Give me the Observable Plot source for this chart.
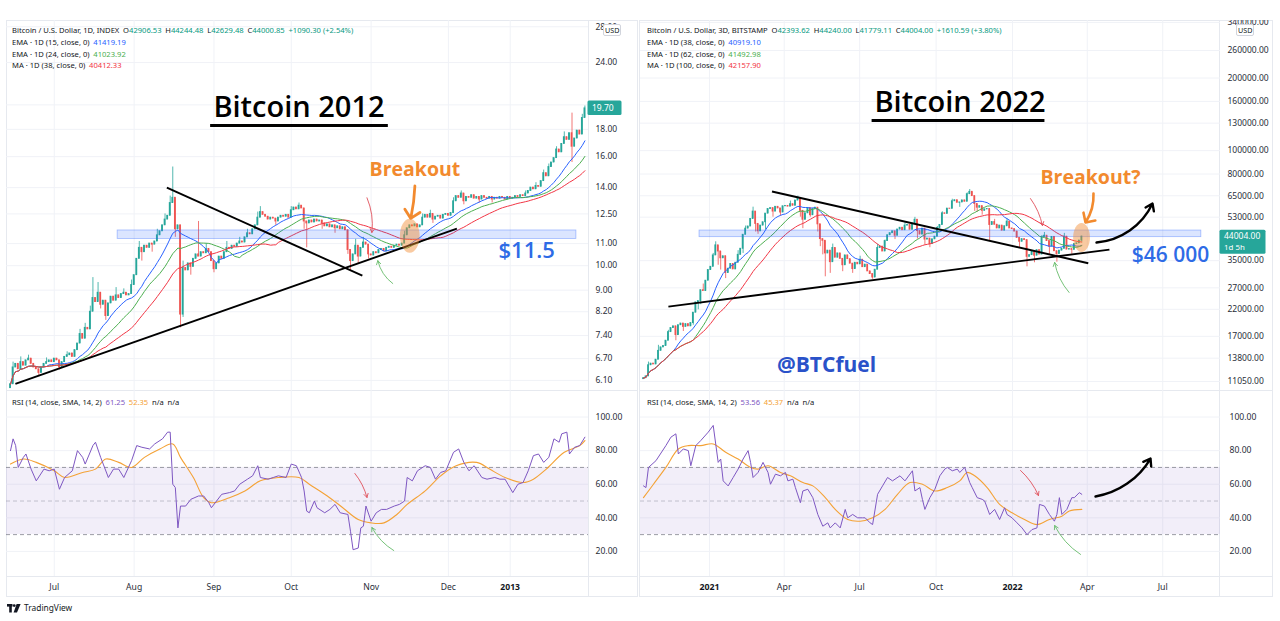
<!DOCTYPE html>
<html>
<head>
<meta charset="utf-8">
<script src="https://cdn.jsdelivr.net/npm/d3@7"></script>
<script src="https://cdn.jsdelivr.net/npm/@observablehq/plot@0.6"></script>
<style>
html,body{margin:0;padding:0;background:#fff;}
body{width:1280px;height:621px;position:relative;overflow:hidden;font-family:"Noto Sans",Roboto,sans-serif;color:#131722;}
.box{position:absolute;border:1px solid #e6e9ef;box-sizing:border-box;}
.hl{position:absolute;height:0;border-top:1px solid #e6e9ef;}
.vl{position:absolute;width:0;border-left:1px solid #e6e9ef;}
.plot{position:absolute;}
.lg{position:absolute;font-size:7.6px;line-height:12px;white-space:nowrap;color:#131722;}
.usd{position:absolute;font-size:7.2px;line-height:10px;height:10px;border:1px solid #d1d4dc;border-radius:2px;background:#fff;text-align:center;color:#131722;padding:0 1px;}
.tv{position:absolute;left:7px;top:602px;font-size:8.4px;line-height:12px;color:#131722;display:flex;align-items:center;gap:3px;}
</style>
</head>
<body>
<div class="box" style="left:6px;top:20px;width:632px;height:577px"></div>
<div class="vl" style="left:588px;top:20px;height:577px"></div>
<div class="hl" style="left:6px;top:390px;width:632px"></div>
<div class="hl" style="left:6px;top:576px;width:632px"></div>
<div class="box" style="left:639px;top:20px;width:634px;height:577px"></div>
<div class="vl" style="left:1219px;top:20px;height:577px"></div>
<div class="hl" style="left:639px;top:390px;width:634px"></div>
<div class="hl" style="left:639px;top:576px;width:634px"></div>
<div id="lp" class="plot" style="left:0;top:20px"></div>
<div id="lr" class="plot" style="left:0;top:390px"></div>
<div id="rp" class="plot" style="left:640px;top:20px"></div>
<div id="rr" class="plot" style="left:640px;top:390px"></div>
<div id="overlay"></div>
<div class="tv"><svg width="14" height="9" viewBox="0 0 14 9"><rect x="0" y="0" width="5.5" height="2.6" fill="#131722"/><rect x="2.2" y="0" width="2.6" height="8.5" fill="#131722"/><circle cx="7.2" cy="1.6" r="1.4" fill="#131722"/><path d="M9.6 0 L13.6 0 L10 8.5 L6.6 8.5 Z" fill="#131722"/></svg><span>TradingView</span></div>
<script>
// ================= LEFT PANEL : Bitcoin 2012 (daily, INDEX) =================
const leftClose = [
 6.00,6.45,6.55,6.40,6.60,6.50,6.65,6.70,6.55,6.45,
 6.40,6.30,6.45,6.55,6.60,6.65,6.60,6.70,6.65,6.45,
 6.60,6.75,6.80,6.85,6.75,6.95,7.15,7.45,7.30,7.65,
 7.60,8.20,8.70,8.55,8.90,8.45,8.60,8.05,8.50,8.75,
 8.60,8.80,8.70,8.85,8.90,8.80,8.85,9.20,9.60,10.30,
 10.80,10.60,10.90,10.80,11.00,10.95,11.10,11.40,11.60,11.90,
 12.20,12.40,13.10,13.40,11.70,11.90,8.10,9.90,9.80,10.10,
 9.95,10.30,10.50,10.40,10.60,10.55,10.75,10.60,10.20,9.85,
 10.10,10.40,10.30,10.60,10.80,10.75,10.90,10.85,11.00,11.10,
 11.05,11.30,11.50,11.45,11.70,11.90,12.30,12.60,12.45,12.35,
 12.20,12.30,12.25,12.10,12.30,12.40,12.35,12.45,12.30,12.70,
 12.85,12.75,12.95,12.80,12.10,12.00,12.15,12.05,12.20,12.10,
 12.15,12.00,11.85,11.95,11.80,11.90,11.75,11.85,11.70,11.80,
 11.65,10.70,10.20,10.50,10.90,10.40,10.80,11.05,10.95,10.50,
 10.45,10.60,10.55,10.70,10.75,10.65,10.80,10.85,10.80,10.90,
 10.95,10.90,11.00,11.40,11.75,11.90,11.85,11.95,11.80,11.90,
 12.30,12.45,12.30,12.50,12.20,12.35,12.40,12.25,12.45,12.50,
 12.40,12.55,13.20,13.50,13.40,13.65,13.20,13.45,13.40,13.55,
 13.35,13.45,13.30,13.50,13.40,13.35,13.45,13.30,13.40,13.35,
 13.45,13.40,13.30,13.45,13.35,13.40,13.50,13.45,13.55,13.50,
 13.65,13.80,14.00,13.90,14.10,14.05,14.40,14.90,14.70,15.30,
 15.60,15.90,16.50,16.30,16.90,17.40,17.20,17.70,16.70,17.30,
 17.90,17.60,18.90,19.70];
const leftOpen0 = 5.90;
// [bar, high, low]
const leftWicks = [[1,6.6,null],[4,6.75,null],[7,6.8,null],[11,null,6.2],[14,6.72,null],[19,null,6.38],[22,6.9,null],[27,7.6,null],[29,7.8,null],[31,8.4,null],[32,9.5,null],[34,9.3,null],[35,null,8.3],[37,null,7.9],[41,9.1,null],[44,9.05,null],[47,9.4,null],[50,11.1,null],[51,null,10.2],[55,null,10.6],[57,11.7,null],[60,12.5,null],[62,13.5,null],[63,15.3,null],[64,null,11.3],[66,null,7.65],[67,10.2,8.0],[70,null,9.6],[73,12.1,null],[76,11.0,null],[79,null,9.7],[84,11.1,null],[89,11.3,null],[92,11.7,null],[96,12.6,null],[97,12.9,null],[103,null,11.9],[109,12.9,null],[112,13.1,null],[114,null,11.7],[115,null,10.8],[121,null,11.7],[126,null,11.5],[131,null,10.5],[132,null,9.8],[134,11.2,null],[135,null,10.1],[137,11.3,null],[139,null,10.3],[153,11.6,null],[160,12.5,null],[163,12.7,null],[164,null,12.0],[172,13.4,null],[175,13.8,null],[176,null,13.0],[182,null,13.1],[187,null,13.1],[200,13.8,null],[204,14.3,null],[207,15.1,null],[209,15.5,null],[212,16.7,null],[215,17.8,null],[218,19.3,15.6],[222,19.2,null],[223,19.9,null]];
const leftMaLengths = [15, 24, 38];
const leftPriceTicks = [28, 24, 18, 16, 14, 12.5, 11, 10, 9, 8.2, 7.4, 6.7, 6.1];
const leftGridTicks = [28, 24, 20, 18, 16, 14, 12.5, 11, 10, 9, 8.2, 7.4, 6.7, 6.1];
const leftMonthBars = [17, 48, 79, 109, 140, 170];
const leftMonthLabels = ["Jul", "Aug", "Sep", "Oct", "Nov", "Dec"];
const leftYearBars = [194];
const leftYearLabels = ["2013"];
// RSI [bar, value]
const leftRsi = [[0,80],[1,87],[2,83],[3,70],[5,76],[6,78],[8,69],[10,62],[13,69],[15,68],[17,69],[19,57],[21,64],[24,68],[26,80],[28,76],[29,72],[32,83],[33,85],[35,76],[36,72],[38,64],[40,69],[42,69],[44,64],[47,74],[49,83],[51,82],[54,81],[56,84],[59,87],[61,91],[62,91],[63,60],[64,58],[65,34],[66,47],[68,47],[70,51],[73,53],[75,53],[77,49],[78,46],[80,50],[82,54],[85,55],[87,56],[89,60],[92,63],[94,65],[96,71],[97,64],[100,63],[102,64],[104,65],[107,64],[109,72],[111,71],[113,64],[114,56],[115,44],[116,43],[118,50],[119,46],[122,43],[124,45],[126,48],[128,43],[131,42],[132,32],[133,21],[135,22],[136,34],[137,35],[138,47],[140,38],[142,43],[144,45],[146,45],[149,47],[151,48],[153,50],[154,64],[156,62],[158,68],[161,71],[163,70],[165,63],[167,67],[169,68],[172,79],[174,81],[176,73],[178,68],[180,71],[183,64],[185,63],[188,64],[190,63],[192,63],[195,55],[197,60],[199,61],[201,68],[203,77],[205,78],[207,73],[209,76],[211,87],[213,85],[214,90],[216,91],[217,78],[219,82],[221,83],[223,88]];
const leftRsiMa = [[0,72],[5,75],[10,73],[17,68],[21,64],[28,67],[33,69],[37,75],[42,73],[47,70],[52,76],[58,81],[63,84],[66,76],[71,64],[75,52],[78,49],[85,52],[91,56],[97,62],[104,64],[112,64],[116,60],[123,53],[129,46],[135,39],[140,37],[145,37],[150,42],[154,48],[161,56],[167,65],[173,71],[181,73],[186,69],[192,64],[199,61],[203,63],[208,69],[215,79],[221,83],[223,86]];
// annotations (bar, price)
const leftTrendLines = [{i1:1.9,p1:6.01,i2:173.3,p2:11.73},{i1:60.7,p1:14.0,i2:136.6,p2:9.58}];
const leftZone = [{i1:41.6,i2:219.7,lo:11.22,hi:11.64}];
const leftTitle = [{i:112,p:19.77,text:"Bitcoin 2012"}];
const leftUnderline = [{i1:77.5,i2:146.5,p:18.29}];
const leftBreakout = [{i:157,p:15.1,text:"Breakout"}];
const leftLevel = [{i:200.4,p:10.67,text:"$11.5"}];
const leftBreakArrow = [{i1:157.0,p1:14.1,i2:155.4,p2:12.26}];
const leftHighlight = [{i:155.0,p:11.38}];
const leftRedArrow = [{i1:138.4,p1:13.4,i2:140.3,p2:11.54}];
const leftGreenArrow = [{i1:148.4,p1:9.26,i2:142.6,p2:10.22}];
const leftRsiRedArrow = [{i1:133.7,v1:66.4,i2:138.4,v2:52.1}];
const leftRsiGreenArrow = [{i1:148.8,v1:20.5,i2:140.3,v2:34.2}];
const leftLast = 19.70;
const leftHeader = ["Bitcoin / U.S. Dollar, 1D, INDEX", "42906.53", "44244.48", "42629.48", "44000.85", "+1090.30 (+2.54%)"];
const leftIndicators = [["EMA · 1D (15, close, 0)", "41419.19"], ["EMA · 1D (24, close, 0)", "41023.92"], ["MA · 1D (38, close, 0)", "40412.33"]];
const leftRsiHeader = ["RSI (14, close, SMA, 14, 2)", "61.25", "52.35", "n/a", "n/a"];

// ================= RIGHT PANEL : Bitcoin 2022 (3D, BITSTAMP), thousands USD =================
const rightClose = [
 11.4,11.6,12.9,13.1,13.0,13.6,14.8,15.3,15.5,16.3,
 17.7,18.4,18.7,17.2,18.9,19.2,18.6,19.1,18.7,19.3,
 21.3,23.5,23.8,26.4,26.2,28.9,32.0,33.0,36.8,40.5,
 38.2,35.8,36.5,31.1,32.4,33.9,32.2,34.3,37.0,39.2,
 44.8,47.5,48.5,52.1,55.9,49.7,46.3,48.9,50.5,54.8,
 57.3,57.8,55.9,58.5,57.6,55.4,58.8,59.0,58.6,60.0,
 59.1,62.1,63.5,56.3,51.7,55.0,57.8,54.0,57.2,58.0,
 49.5,43.0,42.3,37.5,38.5,34.5,39.5,36.0,37.5,35.6,
 33.5,36.8,35.5,34.0,32.3,34.3,33.8,35.3,32.9,33.7,
 31.6,30.8,29.8,32.1,39.5,40.0,38.2,42.2,44.6,45.5,
 46.3,44.4,47.1,47.9,46.8,48.9,49.2,47.0,49.9,51.7,
 46.4,44.9,47.5,42.8,43.2,41.0,42.9,44.0,47.8,49.2,
 55.0,54.7,57.5,57.4,61.7,62.3,60.8,61.0,62.2,61.4,
 66.0,67.5,64.8,60.1,58.0,58.9,56.3,57.1,57.3,49.2,
 50.6,49.3,47.6,48.9,46.6,48.6,50.8,47.6,47.3,46.2,
 43.5,41.9,43.0,42.6,36.3,36.9,38.2,36.7,38.7,37.1,
 43.8,44.4,42.2,40.0,43.9,38.3,37.3,38.5,39.2,44.0,
 38.9,39.1,38.8,41.0,41.3,42.39,44.004];
const rightOpen0 = 11.3;
const rightWicks = [[2,13.3,null],[6,15.6,null],[10,18.0,null],[13,null,16.3],[16,null,17.8],[20,null,18.9],[22,null,21.9],[23,null,23.0],[24,28.0,null],[28,37.5,null],[29,41.9,null],[30,null,33.5],[31,null,32.0],[33,null,29.5],[38,38.5,null],[40,null,37.5],[41,48.7,null],[44,58.3,null],[45,null,46.0],[46,null,45.0],[49,null,47.0],[52,null,53.0],[55,null,53.5],[59,61.8,null],[62,64.8,null],[63,null,53.0],[64,null,47.5],[67,null,53.0],[70,null,46.0],[71,null,40.0],[72,null,37.0],[73,null,30.0],[75,null,31.0],[76,41.0,null],[80,null,31.5],[84,null,31.0],[87,36.5,null],[92,null,29.3],[94,40.9,null],[97,42.6,null],[101,null,42.8],[105,50.2,null],[109,52.9,null],[110,null,43.0],[113,null,40.6],[115,null,39.6],[118,48.5,null],[120,55.8,null],[124,62.9,null],[127,null,58.2],[130,66.8,null],[131,69.0,null],[133,null,56.0],[134,null,55.5],[136,null,54.0],[139,null,42.0],[141,51.9,null],[146,52.1,null],[151,null,39.6],[154,null,33.0],[157,null,34.3],[160,44.5,null],[161,45.8,null],[163,null,37.0],[166,null,34.5],[169,45.4,null],[172,null,37.2],[176,44.24,41.78]];
const rightMaLengths = [13, 21, 33];
const rightPriceTicks = [340000, 260000, 200000, 160000, 130000, 100000, 80000, 65000, 53000, 35000, 27000, 22000, 17000, 13800, 11050];
const rightMonthBars = [56.5, 86.8, 117.5, 178.2, 208.5];
const rightMonthLabels = ["Apr", "Jul", "Oct", "Apr", "Jul"];
const rightYearBars = [26.5, 148.2];
const rightYearLabels = ["2021", "2022"];
const rightRsi = [[0,59],[1,58],[2,70],[5,74],[9,83],[11,88],[13,90],[14,78],[16,81],[18,80],[19,71],[21,83],[23,86],[26,91],[28,95],[30,73],[31,75],[32,62],[34,59],[36,64],[38,69],[40,75],[42,80],[43,73],[44,64],[46,67],[48,73],[50,67],[51,60],[53,66],[55,65],[57,67],[58,62],[60,63],[61,58],[63,49],[64,56],[66,57],[68,52],[70,42],[72,35],[74,37],[75,34],[77,37],[79,34],[81,45],[82,40],[84,42],[86,40],[88,40],[89,40],[91,37],[92,36],[94,54],[96,59],[98,64],[100,62],[103,65],[105,62],[108,68],[109,56],[111,58],[112,51],[113,45],[115,52],[117,57],[119,65],[121,69],[122,70],[124,68],[126,69],[127,67],[129,70],[131,61],[132,58],[134,52],[136,51],[137,50],[139,42],[141,45],[143,39],[145,46],[146,42],[148,40],[150,37],[152,34],[154,30],[156,33],[158,34],[159,48],[161,47],[163,42],[165,38],[166,42],[167,52],[168,42],[170,45],[172,52],[173,52],[175,55],[176,54]];
const rightRsiMa = [[0,52],[4,60],[9,70],[14,81],[18,83],[23,83],[28,84],[33,79],[38,75],[43,70],[46,69],[50,71],[55,67],[59,65],[64,61],[68,59],[73,52],[77,45],[82,39],[87,38],[92,40],[97,45],[102,54],[107,61],[112,60],[117,56],[122,58],[127,62],[130,67],[133,65],[138,58],[143,48],[148,43],[153,39],[158,36],[163,39],[168,41],[171,44],[176,45]];
const rightTrendLines = [{i1:10,p1:22580,i2:187.1,p2:38900},{i1:51.6,p1:67700,i2:178.6,p2:34150}];
const rightZone = [{i1:22.5,i2:224,lo:43800,hi:46650}];
const rightTitle = [{i:127.1,p:157600,text:"Bitcoin 2022"}];
const rightUnderline = [{i1:91.6,i2:161.0,p:133300}];
const rightBreakout = [{i:179.5,p:77400,text:"Breakout?"}];
const rightLevel = [{i:211.6,p:36760,text:"$46 000"}];
const rightHandle = [{i:73.5,p:12870,text:"@BTCfuel"}];
const rightBreakArrow = [{i1:180.7,p1:66400,i2:177.5,p2:50390}];
const rightHighlight = [{i:175.9,p:43670}];
const rightUpArrow = [{i1:181.9,p1:41610,i2:204.4,p2:60400}];
const rightRedArrow = [{i1:155.4,p1:63300,i2:160.2,p2:48960}];
const rightGreenArrow = [{i1:170.9,p1:25840,i2:165.1,p2:34390}];
const rightRsiUpArrow = [{i1:181.5,v1:52.7,i2:203.6,v2:75.3}];
const rightRsiRedArrow = [{i1:151.4,v1:68.2,i2:158.6,v2:53.3}];
const rightRsiGreenArrow = [{i1:175.5,v1:18.2,i2:165.1,v2:35.4}];
const rightLast = 44004;
const rightHeader = ["Bitcoin / U.S. Dollar, 3D, BITSTAMP", "42393.62", "44240.00", "41779.11", "44004.00", "+1610.59 (+3.80%)"];
const rightIndicators = [["EMA · 1D (38, close, 0)", "40919.10"], ["EMA · 1D (62, close, 0)", "41492.98"], ["MA · 1D (100, close, 0)", "42157.90"]];
const rightRsiHeader = ["RSI (14, close, SMA, 14, 2)", "53.56", "45.37", "n/a", "n/a"];

// shared
const rsiTicks = [20, 40, 60, 80, 100];
const rsiBand = [{lo: 30, hi: 70}];
const rsiOuter = [30, 70];
const rsiMid = [50];

// ================= rendering =================
const UP = "#26a69a", DOWN = "#ef5350";
const MA_COLORS = ["#2962ff", "#4caf50", "#f23645"];
const ORANGE = "#f28a2e", BLUE_TXT = "#2e6be6";
const GRID = "#f0f2f7";
const candleColor = d => d.c >= d.o ? UP : DOWN;

function buildBars(closes, open0, wicks, scale) {
  const wm = new Map(wicks.map(w => [w[0], w]));
  return closes.map((c0, i) => {
    const c = c0 * scale;
    const o = (i === 0 ? open0 : closes[i - 1]) * scale;
    const w = wm.get(i);
    const h = w && w[1] != null ? w[1] * scale : Math.max(o, c);
    const l = w && w[2] != null ? w[2] * scale : Math.min(o, c);
    return {i, o, c, h: Math.max(h, o, c), l: Math.min(l, o, c)};
  });
}

const ellipseSymbol = {
  draw(ctx, size) {
    const r = Math.sqrt(size / Math.PI), rx = r * 0.58, ry = r, k = 0.5523;
    ctx.moveTo(rx, 0);
    ctx.bezierCurveTo(rx, ry * k, rx * k, ry, 0, ry);
    ctx.bezierCurveTo(-rx * k, ry, -rx, ry * k, -rx, 0);
    ctx.bezierCurveTo(-rx, -ry * k, -rx * k, -ry, 0, -ry);
    ctx.bezierCurveTo(rx * k, -ry, rx, -ry * k, rx, 0);
    ctx.closePath();
  }
};

function priceTag(value, lines, boxW, fs, lh) {
  return (index, scales, values, dim) => {
    const y = scales.y(value);
    const x0 = dim.width - dim.marginRight - 0.5;
    const g = d3.create("svg:g");
    g.append("rect").attr("x", x0).attr("y", y - lh / 2 - 1).attr("width", boxW)
      .attr("height", lh * lines.length + 2).attr("rx", 1.5).attr("fill", UP);
    lines.forEach((t, k) => g.append("text").attr("x", x0 + 4.5).attr("y", y + k * lh)
      .attr("dy", "0.36em").attr("text-anchor", "start").attr("fill", "#fff").attr("font-size", k ? fs - 0.6 : fs)
      .attr("font-family", "'Noto Sans', sans-serif").text(t));
    return g.node();
  };
}

const titleFont = "'Open Sans', 'Noto Sans', sans-serif";

function pricePanel(o) {
  return Plot.plot({
    width: 640, height: 370,
    marginLeft: o.ml, marginRight: o.mr, marginTop: 0, marginBottom: 0,
    style: {background: "transparent", overflow: "hidden", fontFamily: "'Noto Sans', sans-serif"},
    x: {domain: o.xDomain, axis: null, label: null},
    y: {type: "log", domain: o.yDomain, axis: null, label: null},
    marks: [
      Plot.gridY(o.gridTicks, {stroke: GRID, strokeOpacity: 1}),
      Plot.gridX(o.timeTicks, {stroke: GRID, strokeOpacity: 1}),
      Plot.axisY(o.priceTicks, {anchor: "right", tickSize: 0, tickPadding: o.tp, tickFormat: d => d.toFixed(2), fontSize: 8.5, fill: "#2a2e39", label: null}),
      Plot.ruleX(o.bars, {x: "i", y1: "l", y2: "h", stroke: candleColor, strokeWidth: 0.8}),
      Plot.rect(o.bars, {x1: d => d.i - 0.34, x2: d => d.i + 0.34, y1: "o", y2: "c", fill: candleColor, insetTop: -0.45, insetBottom: -0.45}),
      ...o.maLengths.map((k, j) => Plot.lineY(o.bars, Plot.windowY({k, anchor: "end", reduce: "mean"}, {x: "i", y: "c", stroke: MA_COLORS[j], strokeWidth: 1}))),
      ...o.extra
    ]
  });
}

function rsiPanel(o) {
  return Plot.plot({
    width: 640, height: 206,
    marginLeft: o.ml, marginRight: o.mr, marginTop: 0, marginBottom: 20,
    style: {background: "transparent", overflow: "visible", fontFamily: "'Noto Sans', sans-serif"},
    x: {domain: o.xDomain, axis: null, label: null},
    y: {domain: [5.06, 115.8], axis: null, label: null},
    marks: [
      Plot.gridY(rsiTicks, {stroke: GRID, strokeOpacity: 1}),
      Plot.gridX(o.timeTicks, {stroke: GRID, strokeOpacity: 1}),
      Plot.rect(rsiBand, {y1: "lo", y2: "hi", fill: "#7e57c2", fillOpacity: 0.1}),
      Plot.ruleY(rsiOuter, {stroke: "#787b86", strokeOpacity: 0.75, strokeDasharray: "4,3"}),
      Plot.ruleY(rsiMid, {stroke: "#787b86", strokeOpacity: 0.4, strokeDasharray: "4,3"}),
      Plot.axisY(rsiTicks, {anchor: "right", tickSize: 0, tickPadding: o.tp, tickFormat: d => d.toFixed(2), fontSize: 8.6, fill: "#2a2e39", label: null}),
      Plot.axisX(o.monthBars, {tickSize: 0, tickPadding: 7, tickFormat: d => o.monthLabels[o.monthBars.indexOf(d)], fontSize: o.dfs, fill: "#2a2e39", label: null}),
      Plot.axisX(o.yearBars, {tickSize: 0, tickPadding: 7, tickFormat: d => o.yearLabels[o.yearBars.indexOf(d)], fontSize: o.dfs, fontWeight: "bold", fill: "#131722", label: null}),
      Plot.line(o.rsiMa, {x: d => d[0], y: d => d[1], stroke: "#f4a236", strokeWidth: 1.1, curve: "catmull-rom"}),
      Plot.line(o.rsi, {x: d => d[0], y: d => d[1], stroke: "#7e57c2", strokeWidth: 1}),
      ...o.extra
    ]
  });
}

const leftBars = buildBars(leftClose, leftOpen0, leftWicks, 1);
const rightBars = buildBars(rightClose, rightOpen0, rightWicks, 1000);
const leftXDomain = [-1.55, 224.4];
const rightXDomain = [-1.2, 231.7];
const leftTimeTicks = [...leftMonthBars, ...leftYearBars];
const rightTimeTicks = [...rightMonthBars, ...rightYearBars];

const arrowOpts = (stroke, sw, bend, hl, ha) => ({x1: "i1", y1: "p1", x2: "i2", y2: "p2", stroke, strokeWidth: sw, bend, headLength: hl, headAngle: ha});
const rsiArrowOpts = (stroke, sw, bend, hl, ha) => ({x1: "i1", y1: "v1", x2: "i2", y2: "v2", stroke, strokeWidth: sw, bend, headLength: hl, headAngle: ha});

document.getElementById("lp").append(pricePanel({
  ml: 6, mr: 52, tp: 7, xDomain: leftXDomain, yDomain: [5.84, 28.77],
  priceTicks: leftPriceTicks, gridTicks: leftGridTicks, timeTicks: leftTimeTicks, bars: leftBars, maLengths: leftMaLengths,
  extra: [
    Plot.rect(leftZone, {x1: "i1", x2: "i2", y1: "lo", y2: "hi", fill: "#2962ff", fillOpacity: 0.17, stroke: "#2962ff", strokeOpacity: 0.4, strokeWidth: 0.8}),
    Plot.link(leftTrendLines, {x1: "i1", y1: "p1", x2: "i2", y2: "p2", stroke: "#000", strokeWidth: 1.9}),
    Plot.dot(leftHighlight, {x: "i", y: "p", r: 17, symbol: ellipseSymbol, fill: ORANGE, fillOpacity: 0.45, stroke: "none"}),
    Plot.arrow(leftBreakArrow, arrowOpts(ORANGE, 2.8, 5, 7, 90)),
    Plot.arrow(leftRedArrow, arrowOpts("#e0505a", 0.9, 15, 7, 60)),
    Plot.arrow(leftGreenArrow, arrowOpts("#66bb6a", 0.9, 20, 7, 60)),
    Plot.text(leftTitle, {x: "i", y: "p", text: "text", fontFamily: titleFont, fontWeight: 600, fontSize: 29, fill: "#000"}),
    Plot.link(leftUnderline, {x1: "i1", x2: "i2", y1: "p", y2: "p", stroke: "#000", strokeWidth: 3}),
    Plot.text(leftBreakout, {x: "i", y: "p", text: "text", fontFamily: titleFont, fontWeight: 700, fontSize: 19.5, fill: ORANGE}),
    Plot.text(leftLevel, {x: "i", y: "p", text: "text", fontFamily: titleFont, fontWeight: 600, fontSize: 22, fill: BLUE_TXT}),
    priceTag(leftLast, [leftLast.toFixed(2)], 34, 8.5, 12.5)
  ]
}));

document.getElementById("lr").append(rsiPanel({
  ml: 6, mr: 52, tp: 7, xDomain: leftXDomain, timeTicks: leftTimeTicks, dfs: 8.6,
  monthBars: leftMonthBars, monthLabels: leftMonthLabels, yearBars: leftYearBars, yearLabels: leftYearLabels,
  rsi: leftRsi, rsiMa: leftRsiMa,
  extra: [
    Plot.arrow(leftRsiRedArrow, rsiArrowOpts("#e0505a", 0.9, 12, 7, 60)),
    Plot.arrow(leftRsiGreenArrow, rsiArrowOpts("#66bb6a", 0.9, 15, 7, 60))
  ]
}));

document.getElementById("rp").append(pricePanel({
  ml: 0, mr: 60, tp: 7, xDomain: rightXDomain, yDomain: [10138, 346200],
  priceTicks: rightPriceTicks, gridTicks: rightPriceTicks, timeTicks: rightTimeTicks, bars: rightBars, maLengths: rightMaLengths,
  extra: [
    Plot.rect(rightZone, {x1: "i1", x2: "i2", y1: "lo", y2: "hi", fill: "#2962ff", fillOpacity: 0.17, stroke: "#2962ff", strokeOpacity: 0.4, strokeWidth: 0.8}),
    Plot.link(rightTrendLines, {x1: "i1", y1: "p1", x2: "i2", y2: "p2", stroke: "#000", strokeWidth: 1.9}),
    Plot.dot(rightHighlight, {x: "i", y: "p", r: 14.5, symbol: ellipseSymbol, fill: ORANGE, fillOpacity: 0.45, stroke: "none"}),
    Plot.arrow(rightBreakArrow, arrowOpts(ORANGE, 2.6, 18, 7, 90)),
    Plot.arrow(rightUpArrow, arrowOpts("#000", 2.4, -30, 5, 70)),
    Plot.arrow(rightRedArrow, arrowOpts("#e0505a", 0.9, 12, 7, 60)),
    Plot.arrow(rightGreenArrow, arrowOpts("#66bb6a", 0.9, 15, 7, 60)),
    Plot.text(rightTitle, {x: "i", y: "p", text: "text", fontFamily: titleFont, fontWeight: 600, fontSize: 29, fill: "#000"}),
    Plot.link(rightUnderline, {x1: "i1", x2: "i2", y1: "p", y2: "p", stroke: "#000", strokeWidth: 3}),
    Plot.text(rightBreakout, {x: "i", y: "p", text: "text", fontFamily: titleFont, fontWeight: 700, fontSize: 19.5, fill: ORANGE}),
    Plot.text(rightLevel, {x: "i", y: "p", text: "text", fontFamily: titleFont, fontWeight: 600, fontSize: 21, fill: BLUE_TXT}),
    Plot.text(rightHandle, {x: "i", y: "p", text: "text", fontFamily: titleFont, fontWeight: 700, fontSize: 21, fill: "#2a52c9"}),
    priceTag(rightLast, [rightLast.toFixed(2), "1d 5h"], 46, 8.5, 11)
  ]
}));

document.getElementById("rr").append(rsiPanel({
  ml: 0, mr: 60, tp: 9, xDomain: rightXDomain, timeTicks: rightTimeTicks, dfs: 8.8,
  monthBars: rightMonthBars, monthLabels: rightMonthLabels, yearBars: rightYearBars, yearLabels: rightYearLabels,
  rsi: rightRsi, rsiMa: rightRsiMa,
  extra: [
    Plot.arrow(rightRsiUpArrow, rsiArrowOpts("#000", 2.4, -25, 5, 70)),
    Plot.arrow(rightRsiRedArrow, rsiArrowOpts("#e0505a", 0.9, 12, 7, 60)),
    Plot.arrow(rightRsiGreenArrow, rsiArrowOpts("#66bb6a", 0.9, 15, 7, 60))
  ]
}));

// ---------- legends (HTML text) ----------
const ov = document.getElementById("overlay");
function addDiv(cls, style, html) { const d = document.createElement("div"); d.className = cls; d.setAttribute("style", style); d.innerHTML = html; ov.append(d); }
const T = v => `<span style="color:#089981">${v}</span>`;
function legends(x, hdr, inds, rsiH) {
  addDiv("lg", `left:${x}px;top:24px`, `${hdr[0]}&ensp;O${T(hdr[1])}&ensp;H${T(hdr[2])}&ensp;L${T(hdr[3])}&ensp;C${T(hdr[4])}&ensp;${T(hdr[5])}`);
  inds.forEach((d, k) => addDiv("lg", `left:${x}px;top:${36 + k * 11.7}px`, `${d[0]}&ensp;<span style="color:${MA_COLORS[k]}">${d[1]}</span>`));
  addDiv("lg", `left:${x}px;top:396px`, `${rsiH[0]}&ensp;<span style="color:#7e57c2">${rsiH[1]}</span>&ensp;<span style="color:#f4a236">${rsiH[2]}</span>&ensp;${rsiH[3]}&ensp;${rsiH[4]}`);
}
legends(12, leftHeader, leftIndicators, leftRsiHeader);
legends(647, rightHeader, rightIndicators, rightRsiHeader);
addDiv("usd", "left:603px;top:24px", "USD");
addDiv("usd", "left:1236px;top:24px", "USD");
</script>
</body>
</html>
